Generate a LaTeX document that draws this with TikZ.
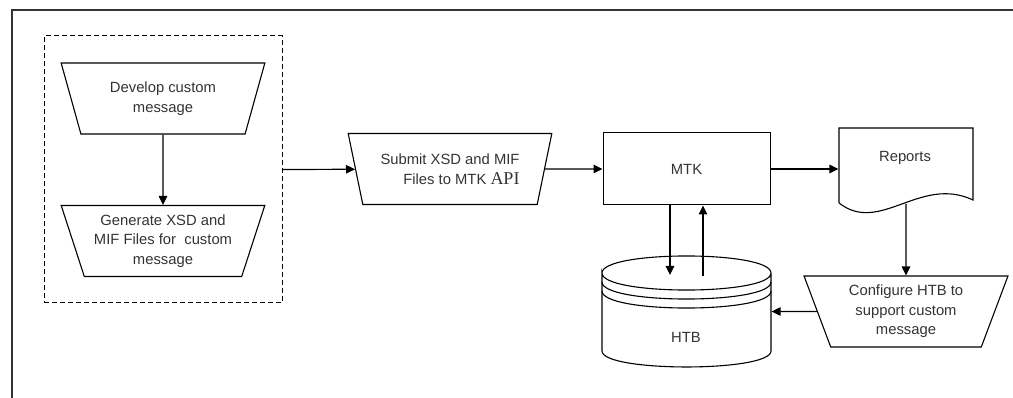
\documentclass[tikz,border=0pt]{standalone}
\usepackage{fontspec}
\setmainfont{Liberation Sans}
\newfontfamily\apifont{Liberation Serif}
\usetikzlibrary{shapes.geometric,arrows.meta}
\begin{document}
\begin{tikzpicture}[x=1pt,y=-1pt,>={Triangle[length=9pt,width=8.5pt]},line width=1.2pt]
            \tikzstyle{trap}=[trapezium, draw, line width=1.1pt, shape border rotate=180, trapezium left angle=69, trapezium right angle=69, trapezium stretches=true, minimum width=204pt, minimum height=71pt, inner sep=0pt, align=center, text=black!80]
            \tikzstyle{box}=[draw, line width=1pt, minimum width=167pt, minimum height=72pt, inner sep=0pt, text=black!80]
            \tikzstyle{group}=[draw, line width=1pt, dash pattern=on 5pt off 3pt, minimum width=238pt, minimum height=267pt]
            \tikzstyle{hidden}=[inner sep=0pt]
            \useasboundingbox (0,0) rectangle (1013,398);
            \fontsize{14.8}{19.5}\selectfont
            % outer frame
            \draw[line width=2pt, black!80] (12,398) -- (12,10) -- (1013,10);
            \node[group] (grp) at (163,169.5) {};
            \node[trap] (dev) at (163,98.5) {Develop custom\\message};
            \node[trap] (gen) at (163,241) {Generate XSD and\\MIF Files for~ custom\\message};
            \node[trap, align=right] (sub) at (450,169) {Submit XSD and MIF\\Files to MTK {\apifont\fontsize{18}{19.5}\selectfont API}};
            \node[box] (mtk) at (686.5,169) {MTK};
            \node[hidden, minimum width=134pt, minimum height=76pt] (rep) at (906,166) {};
            \node[hidden, text=black!80] (reptxt) at (905,158) {Reports};
            \node[trap] (conf) at (906,311.5) {Configure HTB to\\support custom\\message};
            \node[hidden, minimum width=169pt, minimum height=111pt] (db) at (686.5,311.5) {};
            \node[hidden, text=black!80] (htb) at (686,337) {HTB};
            \coordinate (repb) at (906,204);
            \coordinate (dn) at (670,275);
            \coordinate (up) at (703,276);
            % report sheet
            \draw[line width=1.1pt] (839,203) -- (839,128) -- (973,128) -- (973,200)
                .. controls (920,175) and (880,235) .. (839,203);
            % database
            \draw[line width=1.1pt] (602,273) .. controls (602,250.3) and (771,250.3) .. (771,273)
                .. controls (771,295.7) and (602,295.7) .. (602,273) -- (602,351)
                .. controls (602,372.3) and (771,372.3) .. (771,351) -- (771,273);
            \draw[line width=1.1pt] (602,282) .. controls (602,304.7) and (771,304.7) .. (771,282);
            \draw[line width=1.1pt] (602,291) .. controls (602,313.7) and (771,313.7) .. (771,291);
            \path [->] (dev) edge (gen);
            \draw[->] (grp.east) -- (sub);
            \path [->] (sub) edge (mtk);
            \draw[->] (mtk) -- (mtk -| rep.west);
            \draw[->] (repb) -- (conf);
            \draw[->] (conf) -- (conf -| db.east);
            \draw[->] (mtk.south -| dn) -- (dn);
            \draw[->] (up) -- (up |- mtk.south);
\end{tikzpicture}
\end{document}
